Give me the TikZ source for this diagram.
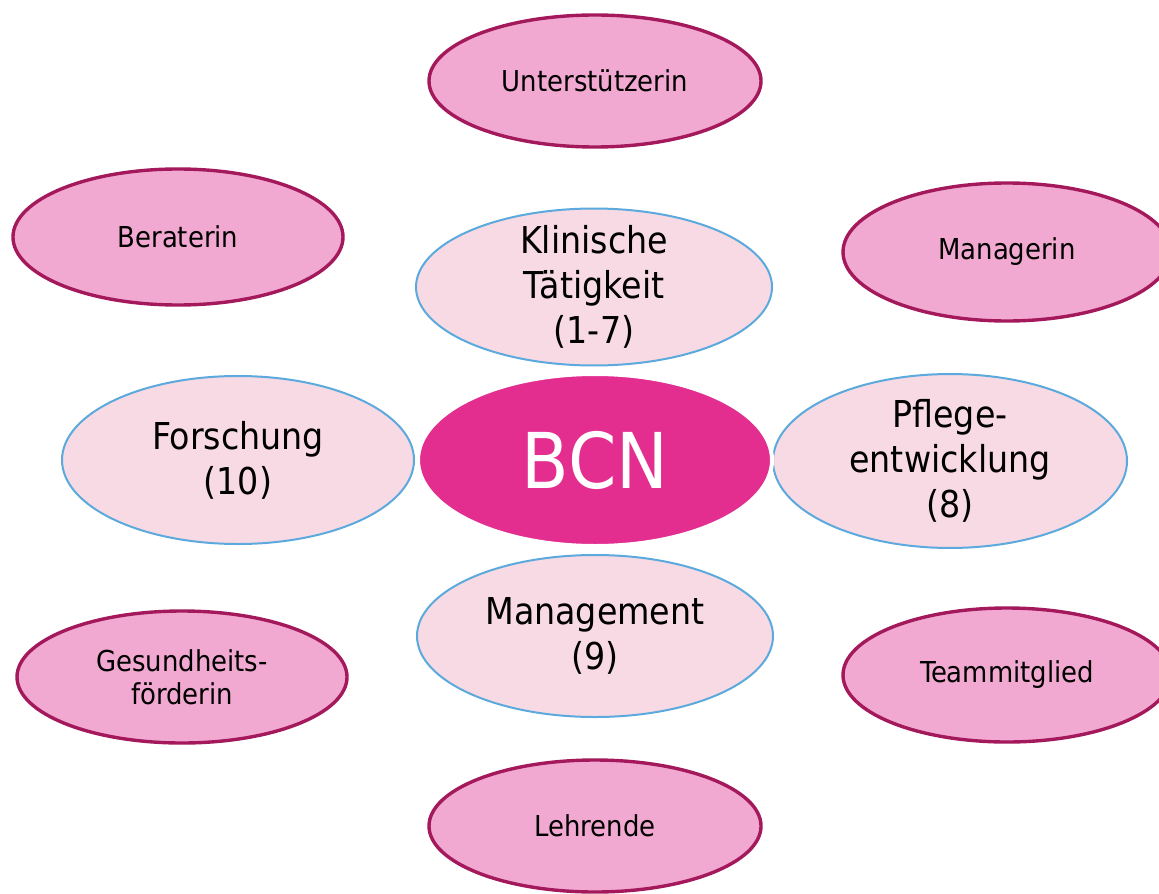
\documentclass[tikz,border=0pt]{standalone}
\usepackage{fontspec}
\setmainfont{DejaVu Sans Condensed}
\usetikzlibrary{shapes.geometric}

\definecolor{bcnpink}{RGB}{227,45,143}
\definecolor{rolefill}{RGB}{242,169,209}
\definecolor{roleline}{RGB}{163,25,91}
\definecolor{fieldfill}{RGB}{247,218,228}
\definecolor{fieldline}{RGB}{91,169,221}

\begin{document}
\begin{tikzpicture}[x=0.5pt, y=-0.5pt,
  field/.style={ellipse, draw=fieldline, line width=1pt, fill=fieldfill,
    inner sep=0pt, align=center, font=\fontsize{18.5}{22.5}\selectfont},
  role/.style={ellipse, draw=roleline, line width=1.7pt, fill=rolefill,
    inner sep=0pt, align=center, font=\fontsize{14.4}{16.5}\selectfont}]
  \useasboundingbox (0,0) rectangle (1159,893);

  % outer ring of roles
  \node[role, minimum width=166pt, minimum height=66pt] (unterst) at (595,81) {Unterstützerin};
  \node[role, minimum width=165pt, minimum height=68pt] (berat) at (178,237) {Beraterin};
  \node[role, minimum width=164pt, minimum height=69pt] (manag) at (1007,252) {Managerin};
  \node[role, minimum width=165pt, minimum height=66pt] (gesund) at (182,677) {Gesundheits-\\förderin};
  \node[role, minimum width=164pt, minimum height=67pt] (team) at (1007,675) {Teammitglied};
  \node[role, minimum width=166pt, minimum height=66pt] (lehr) at (595,826) {Lehrende};

  % fields of activity
  \node[field, inner sep=-3pt, minimum width=178pt, minimum height=77pt] (klin) at (594,287) {Klinische\\Tätigkeit\\(1-7)};
  \node[field, minimum width=176pt, minimum height=84pt] (forsch) at (238,460) {Forschung\\(10)};
  \node[field, minimum width=177pt, minimum height=85pt] (pflege) at (950,461) {Pflege-\\entwicklung\\(8)};
  \node[field, minimum width=178pt, minimum height=81pt] (mgmt) at (595,636) {Management\\(9)};

  % centre
  \node[ellipse, draw=white, line width=2pt, fill=bcnpink, text=white,
    minimum width=177pt, minimum height=86pt, inner sep=0pt,
    font=\fontsize{38.5}{40}\selectfont] (bcn) at (595,460) {BCN};
\end{tikzpicture}
\end{document}
